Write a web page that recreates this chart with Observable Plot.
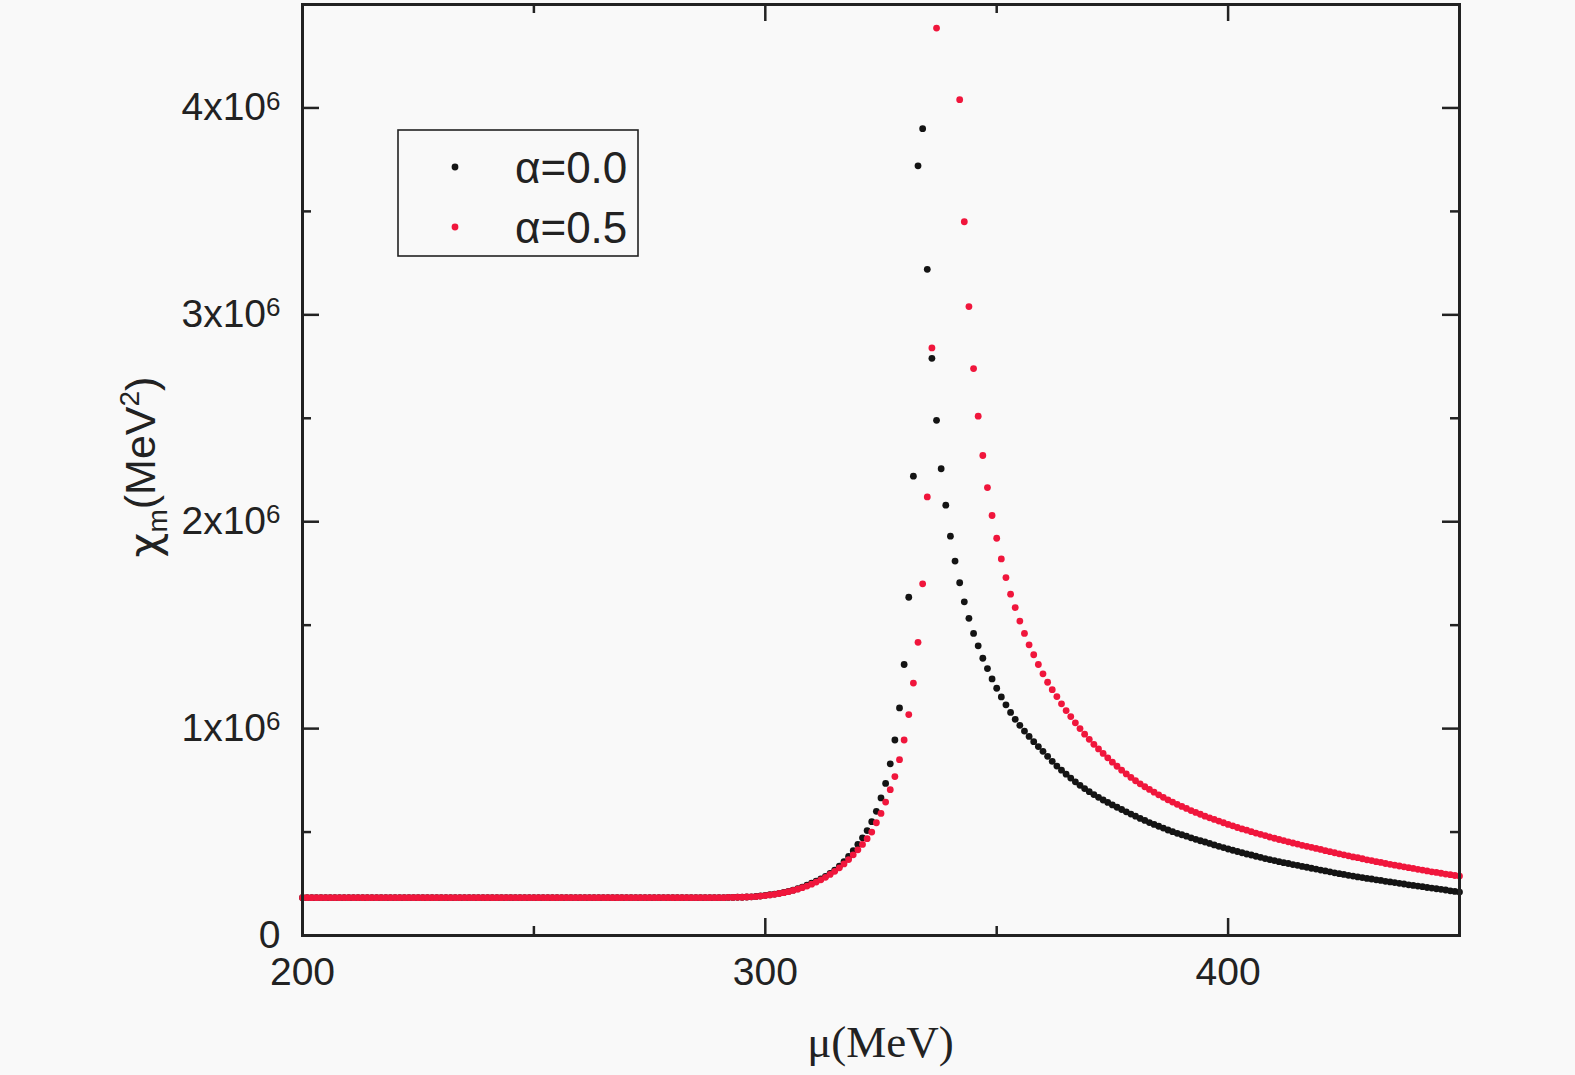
<!DOCTYPE html>
<html><head><meta charset="utf-8">
<script src="https://cdn.jsdelivr.net/npm/d3@7"></script>
<script src="https://cdn.jsdelivr.net/npm/@observablehq/plot@0.6"></script>
<style>html,body{margin:0;padding:0;background:#f9f9f9;overflow:hidden}#chart svg{display:block}</style>
</head><body><div id="chart"></div>
<script>
// chemical potential mu (MeV)
const mu = [
200,201,202,203,204,205,206,207,208,209,
210,211,212,213,214,215,216,217,218,219,
220,221,222,223,224,225,226,227,228,229,
230,231,232,233,234,235,236,237,238,239,
240,241,242,243,244,245,246,247,248,249,
250,251,252,253,254,255,256,257,258,259,
260,261,262,263,264,265,266,267,268,269,
270,271,272,273,274,275,276,277,278,279,
280,281,282,283,284,285,286,287,288,289,
290,291,292,293,294,295,296,297,298,299,
300,301,302,303,304,305,306,307,308,309,
310,311,312,313,314,315,316,317,318,319,
320,321,322,323,324,325,326,327,328,329,
330,331,332,333,334,335,336,337,338,339,
340,341,342,343,344,345,346,347,348,349,
350,351,352,353,354,355,356,357,358,359,
360,361,362,363,364,365,366,367,368,369,
370,371,372,373,374,375,376,377,378,379,
380,381,382,383,384,385,386,387,388,389,
390,391,392,393,394,395,396,397,398,399,
400,401,402,403,404,405,406,407,408,409,
410,411,412,413,414,415,416,417,418,419,
420,421,422,423,424,425,426,427,428,429,
430,431,432,433,434,435,436,437,438,439,
440,441,442,443,444,445,446,447,448,449,
450];

// chi_m in units of 10^6 MeV^2, alpha = 0.0
const chiAlpha00 = [
0.183,0.183,0.183,0.183,0.183,0.183,0.183,0.183,0.183,0.183,
0.183,0.183,0.183,0.183,0.183,0.183,0.183,0.183,0.183,0.183,
0.183,0.183,0.183,0.183,0.183,0.183,0.183,0.183,0.183,0.183,
0.183,0.183,0.183,0.183,0.183,0.183,0.183,0.183,0.183,0.183,
0.183,0.183,0.183,0.183,0.183,0.183,0.183,0.183,0.183,0.183,
0.183,0.183,0.183,0.183,0.183,0.183,0.183,0.183,0.183,0.183,
0.183,0.183,0.183,0.183,0.183,0.183,0.183,0.183,0.183,0.183,
0.183,0.183,0.183,0.183,0.183,0.183,0.183,0.183,0.183,0.183,
0.183,0.183,0.183,0.183,0.183,0.183,0.183,0.183,0.183,0.183,
0.183,0.183,0.184,0.184,0.185,0.185,0.186,0.187,0.189,0.191,
0.194,0.197,0.200,0.204,0.208,0.213,0.219,0.226,0.234,0.243,
0.253,0.263,0.274,0.286,0.300,0.316,0.335,0.357,0.382,0.410,
0.440,0.472,0.507,0.550,0.600,0.665,0.735,0.830,0.945,1.100,
1.310,1.635,2.220,3.720,3.900,3.220,2.790,2.490,2.256,2.080,
1.930,1.810,1.705,1.613,1.533,1.460,1.400,1.340,1.290,1.240,
1.195,1.153,1.115,1.078,1.045,1.016,0.988,0.962,0.937,0.913,
0.890,0.866,0.842,0.819,0.799,0.780,0.761,0.743,0.726,0.710,
0.695,0.681,0.668,0.655,0.643,0.631,0.620,0.609,0.598,0.587,
0.577,0.566,0.556,0.546,0.537,0.528,0.519,0.510,0.502,0.494,
0.487,0.480,0.472,0.465,0.458,0.452,0.445,0.438,0.431,0.425,
0.418,0.412,0.406,0.400,0.394,0.389,0.383,0.378,0.372,0.367,
0.362,0.357,0.352,0.348,0.343,0.339,0.334,0.330,0.325,0.321,
0.316,0.312,0.308,0.303,0.299,0.295,0.291,0.287,0.283,0.280,
0.276,0.273,0.269,0.266,0.262,0.259,0.256,0.252,0.249,0.245,
0.242,0.239,0.236,0.232,0.229,0.226,0.223,0.220,0.216,0.213,
0.210];

// chi_m in units of 10^6 MeV^2, alpha = 0.5 (null = above the plotted range)
const chiAlpha05 = [
0.183,0.183,0.183,0.183,0.183,0.183,0.183,0.183,0.183,0.183,
0.183,0.183,0.183,0.183,0.183,0.183,0.183,0.183,0.183,0.183,
0.183,0.183,0.183,0.183,0.183,0.183,0.183,0.183,0.183,0.183,
0.183,0.183,0.183,0.183,0.183,0.183,0.183,0.183,0.183,0.183,
0.183,0.183,0.183,0.183,0.183,0.183,0.183,0.183,0.183,0.183,
0.183,0.183,0.183,0.183,0.183,0.183,0.183,0.183,0.183,0.183,
0.183,0.183,0.183,0.183,0.183,0.183,0.183,0.183,0.183,0.183,
0.183,0.183,0.183,0.183,0.183,0.183,0.183,0.183,0.183,0.183,
0.183,0.183,0.183,0.183,0.183,0.183,0.183,0.183,0.183,0.183,
0.183,0.183,0.184,0.184,0.185,0.185,0.186,0.187,0.188,0.190,
0.193,0.196,0.199,0.203,0.207,0.212,0.218,0.224,0.231,0.239,
0.248,0.258,0.269,0.281,0.295,0.310,0.327,0.346,0.367,0.390,
0.414,0.440,0.468,0.500,0.545,0.590,0.645,0.705,0.768,0.850,
0.945,1.068,1.220,1.417,1.700,2.120,2.840,4.386,null,null,
null,null,4.040,3.450,3.040,2.740,2.510,2.320,2.165,2.030,
1.920,1.820,1.730,1.650,1.585,1.520,1.460,1.405,1.357,1.310,
1.265,1.224,1.188,1.155,1.120,1.087,1.058,1.028,1.000,0.973,
0.948,0.924,0.902,0.880,0.859,0.838,0.818,0.799,0.781,0.764,
0.748,0.733,0.719,0.706,0.693,0.680,0.668,0.656,0.645,0.634,
0.624,0.614,0.604,0.595,0.586,0.577,0.569,0.561,0.553,0.545,
0.537,0.530,0.522,0.515,0.509,0.502,0.495,0.489,0.483,0.476,
0.470,0.464,0.459,0.453,0.447,0.442,0.436,0.431,0.426,0.421,
0.416,0.410,0.405,0.400,0.395,0.390,0.385,0.380,0.376,0.371,
0.366,0.362,0.357,0.353,0.348,0.344,0.340,0.336,0.332,0.328,
0.324,0.320,0.316,0.312,0.308,0.305,0.301,0.297,0.294,0.290,
0.287];

const seriesNames = ["α=0.0", "α=0.5"];
const seriesColors = ["#141414", "#f0163c"];
const xTicks = [200, 300, 400];
const xMinorTicks = [250, 350];
const yTicks = [0, 1, 2, 3, 4];
const yMinorTicks = [0.5, 1.5, 2.5, 3.5];
const yTickLabels = ["0", "1x10^6", "2x10^6", "3x10^6", "4x10^6"];

const W = 1575, H = 1075;
const mL = 302, mR = 116, mT = 4, mB = 140;
const plotW = W - mL - mR, plotH = H - mT - mB;
const ink = "#222";

const data00 = mu.map((m, i) => ({mu: m, chi: chiAlpha00[i]}));
const data05 = mu.map((m, i) => ({mu: m, chi: chiAlpha05[i]}));

const tickStyle = {stroke: ink, strokeWidth: 2.5};
const svg = Plot.plot({
  width: W, height: H,
  marginLeft: mL, marginRight: mR, marginTop: mT, marginBottom: mB,
  style: {background: "#f9f9f9", fontFamily: "'Liberation Sans', Arial, sans-serif", color: ink},
  x: {domain: [200, 450]},
  y: {domain: [0, 4.5]},
  marks: [
    Plot.dot(data00, {x: "mu", y: "chi", r: 3.4, fill: seriesColors[0], stroke: "none"}),
    Plot.dot(data05, {x: "mu", y: "chi", r: 3.4, fill: seriesColors[1], stroke: "none"}),
    // inward ticks, left and right
    Plot.tickY(yTicks, {y: d => d, insetRight: plotW - 17, ...tickStyle}),
    Plot.tickY(yMinorTicks, {y: d => d, insetRight: plotW - 9, ...tickStyle}),
    Plot.tickY(yTicks, {y: d => d, insetLeft: plotW - 17, ...tickStyle}),
    Plot.tickY(yMinorTicks, {y: d => d, insetLeft: plotW - 9, ...tickStyle}),
    // inward ticks, bottom and top
    Plot.tickX(xTicks, {x: d => d, insetTop: plotH - 17, ...tickStyle}),
    Plot.tickX(xMinorTicks, {x: d => d, insetTop: plotH - 9, ...tickStyle}),
    Plot.tickX(xTicks, {x: d => d, insetBottom: plotH - 17, ...tickStyle}),
    Plot.tickX(xMinorTicks, {x: d => d, insetBottom: plotH - 9, ...tickStyle}),
    Plot.frame({stroke: ink, strokeWidth: 3}),
    Plot.axisX(xTicks, {tickSize: 0, tickPadding: 22, fontSize: 39, fill: ink, label: null}),
    Plot.axisY(yTicks, {tickSize: 0, tickPadding: 22, fontSize: 39, fill: ink, label: null,
      tickFormat: d => yTickLabels[yTicks.indexOf(d)]})
  ]
});
document.getElementById("chart").appendChild(svg);

// superscripts in y tick labels
d3.select(svg).selectAll('g[aria-label="y-axis tick label"] text').each(function() {
  const t = this.textContent;
  if (t.includes("^")) {
    const [base, exp] = t.split("^");
    const sel = d3.select(this);
    sel.text(base);
    sel.append("tspan").attr("dy", "-0.42em").attr("font-size", "26px").text(exp);
  }
});

const s = d3.select(svg);
// x-axis title (serif)
s.append("text").attr("x", mL + plotW / 2).attr("y", 1057)
  .attr("text-anchor", "middle").attr("font-family", "'Liberation Serif', 'Times New Roman', serif")
  .attr("font-size", 45).attr("fill", ink).text("μ(MeV)");
// y-axis title
const yt = s.append("text").attr("transform", "translate(159,467) rotate(-90)")
  .attr("text-anchor", "middle").attr("font-size", 43).attr("fill", ink);
yt.append("tspan").attr("font-family", "'DejaVu Sans', sans-serif").text("χ");
yt.append("tspan").attr("font-size", 28).attr("dy", "0.3em").text("m");
yt.append("tspan").attr("dy", "-0.3em").text("(MeV");
yt.append("tspan").attr("font-size", 28).attr("dy", "-0.55em").text("2");
yt.append("tspan").attr("dy", "0.4em").text(")");

// legend
const lg = s.append("g");
lg.append("rect").attr("x", 398).attr("y", 130).attr("width", 240).attr("height", 126)
  .attr("fill", "none").attr("stroke", ink).attr("stroke-width", 1.6);
seriesNames.forEach((name, i) => {
  const cy = 167 + i * 60;
  lg.append("circle").attr("cx", 455).attr("cy", cy).attr("r", 3.4).attr("fill", seriesColors[i]);
  lg.append("text").attr("x", 515).attr("y", cy + 16).attr("text-anchor", "start")
    .attr("font-size", 44).attr("fill", ink).text(name);
});
</script>
</body></html>
